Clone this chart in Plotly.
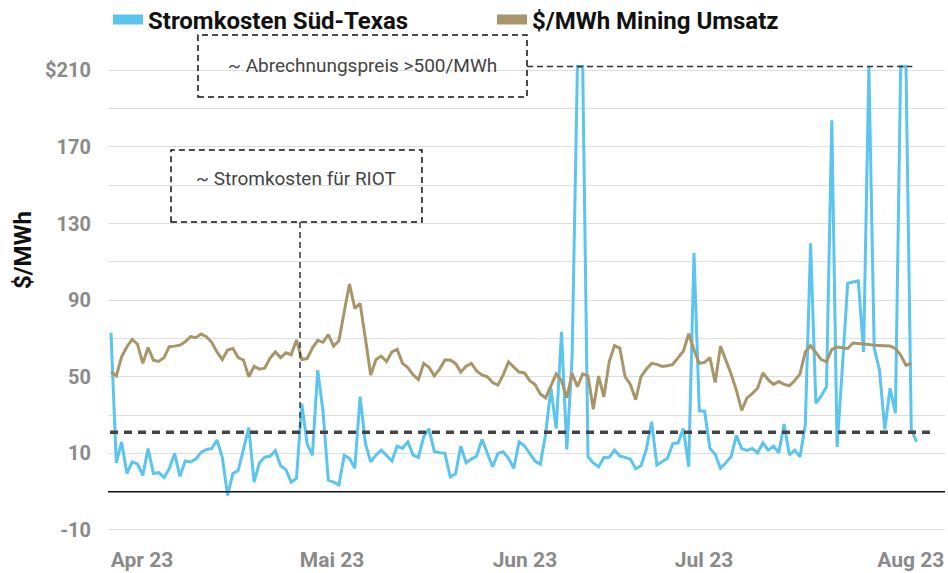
import plotly.graph_objects as go

# ---------------- data ----------------
series_names = ["Stromkosten Süd-Texas", "$/MWh Mining Umsatz"]

stromkosten = [
    73, 5, 16, -0.5, 5.5, 4.5, -1.5, 12.5, -0.5, 0,
    -2.5, 2, 10, -2, 6, 5.5, 7, 10.5, 12, 12.5,
    17, 8, -12, -0.5, 1, 12, 23.5, -5, 5, 8,
    8.5, 11.5, 3.5, 1.5, -5, -3, 36, 15, 9, 53.5,
    32, -4, -5, -6.5, 9, 7.4, 2.2, 39.6, 15.2, 5.6,
    9.1, 11.7, 8.6, 6, 13.8, 12.6, 16, 9.1, 7.9, 18.7,
    22.8, 11, 10.4, 10, -2.2, -0.8, 13.8, 5.1, 7, 8.6,
    17.3, 10, 3, 10, 10.8, 7.4, 2.2, 16, 14, 10,
    6, 4.3, 20, 44, 23, 73.5, 12, 60, 212, 212,
    8.2, 5, 3, 7.9, 8, 11.7, 8.6, 7.9, 6.9, 2,
    3.5, 12, 26.5, 3.9, 5.5, 7.4, 15, 15.5, 23, 3,
    114.6, 32.2, 32, 12.6, 9.5, 2.2, 5.1, 8.2, 19.4, 12.5,
    11.5, 12.6, 10.3, 15.5, 11.7, 13.8, 10.3, 25.3, 9.1, 11.7,
    8.2, 24.8, 119.7, 36.1, 40, 44.8, 184, 13.4, 55, 98.8,
    99.5, 100.1, 63, 212, 64.8, 53.5, 22.5, 44, 30.9, 212,
    212, 22.5, 16,
]

mining_umsatz = [
    52.6, 50.4, 60.4, 65.7, 69.5, 67, 57, 65.3, 58.7, 58,
    60, 65.7, 66, 66.5, 68.3, 71, 70.4, 72.3, 70.9, 68,
    63, 59, 64, 64.8, 60, 58.7, 50, 55.5, 54, 54.5,
    59.6, 63, 60, 62.5, 61.5, 69.2, 59, 59.5, 65, 69,
    68, 72, 66, 68.8, 84, 98.4, 85.7, 88.3, 70, 50.9,
    59, 60.8, 58, 63, 64.3, 57, 54.8, 51, 48.5, 57,
    55, 50.5, 54, 58.7, 58.7, 57, 52.5, 55.5, 57, 53,
    51, 50, 47, 45.7, 51, 57.8, 55, 52.5, 52, 48,
    46, 41, 39, 45, 51.5, 48, 39, 51.8, 44.8, 51.5,
    50.5, 33, 50.4, 39.5, 57.8, 66.3, 65, 50, 46, 38,
    50, 54, 57, 56.5, 55.4, 55.8, 56.5, 60, 63.3, 72.5,
    64, 57, 57.5, 60, 47, 66, 59, 51.5, 43, 32.5,
    39, 41.2, 44, 52, 48.5, 46, 47.5, 46, 45.3, 48,
    51.5, 63, 66.3, 62.6, 59, 57.8, 64.3, 65.5, 65.2, 64.8,
    67.6, 67.4, 67.1, 66.8, 66.4, 66.3, 66.2, 66.1, 64.7, 61.3,
    56, 57,
]

x_tick_text = ["Apr 23", "Mai 23", "Jun 23", "Jul 23", "Aug 23"]
y_tick_vals = [-30, -10, 10, 30, 50, 70, 90, 110, 130, 150, 170, 190, 210]
y_tick_text = ["-10", "", "10", "", "50", "", "90", "", "130", "", "170", "", "$210"]

riot_cost_level = 21      # ~ Stromkosten für RIOT
settlement_cap = 212      # ~ Abrechnungspreis >500/MWh
base_level = -10

annotation_texts = ["~ Abrechnungspreis >500/MWh", "~ Stromkosten für RIOT"]
y_title = "$/MWh"

# ---------------- styling / layout ----------------
BLUE = "#5BC4EF"
GOLD = "#A8966A"
FONT = "Roboto"
x_tick_pos = [5.85, 41.7, 78.1, 111.9, 150.9]

x_blue = list(range(len(stromkosten)))
x_gold = list(range(len(mining_umsatz)))

fig = go.Figure()

fig.add_trace(go.Scatter(x=x_blue, y=stromkosten, mode="lines",
                         line=dict(color=BLUE, width=3), name=series_names[0],
                         legendgroup="a", showlegend=False))
fig.add_trace(go.Scatter(x=x_gold, y=mining_umsatz, mode="lines",
                         line=dict(color=GOLD, width=3), name=series_names[1],
                         legendgroup="b", showlegend=False))
# legend swatches
fig.add_trace(go.Scatter(x=[None], y=[None], mode="lines",
                         line=dict(color=BLUE, width=16), name=series_names[0],
                         legendgroup="a"))
fig.add_trace(go.Scatter(x=[None], y=[None], mode="lines",
                         line=dict(color=GOLD, width=16), name=series_names[1],
                         legendgroup="b"))

shapes = []
# solid black base line
shapes.append(dict(type="line", xref="paper", yref="y", x0=0, x1=1,
                   y0=base_level, y1=base_level, line=dict(color="#111", width=1.5)))
# thick dashed RIOT cost line
shapes.append(dict(type="line", xref="paper", yref="y", x0=0.0024, x1=0.982,
                   y0=riot_cost_level, y1=riot_cost_level,
                   line=dict(color="#444", width=3.5, dash="8px,6px")))
# thin dashed cap line
shapes.append(dict(type="line", xref="paper", yref="y", x0=0.5006, x1=0.961,
                   y0=settlement_cap, y1=settlement_cap,
                   line=dict(color="#333", width=1.5, dash="6px,4px")))
# box 1
shapes.append(dict(type="rect", xref="paper", yref="paper", x0=0.1075, x1=0.5006,
                   y0=0.8973, y1=1.0246, line=dict(color="#111", width=1.5, dash="6px,4px"),
                   fillcolor="rgba(0,0,0,0)"))
# box 2
shapes.append(dict(type="rect", xref="paper", yref="paper", x0=0.0753, x1=0.3751,
                   y0=0.6407, y1=0.7885, line=dict(color="#111", width=1.5, dash="6px,4px"),
                   fillcolor="rgba(0,0,0,0)"))
# vertical connector
shapes.append(dict(type="line", xref="paper", yref="paper", x0=0.2294, x1=0.2294,
                   y0=0.6407, y1=0.209, line=dict(color="#333", width=1.5, dash="6px,4px")))

annotations = [
    dict(text=annotation_texts[0], xref="paper", yref="paper", x=0.3041, y=0.9610,
         xanchor="center", yanchor="middle", showarrow=False,
         font=dict(family=FONT, size=19, color="#444")),
    dict(text=annotation_texts[1], xref="paper", yref="paper", x=0.2246, y=0.7290,
         xanchor="center", yanchor="middle", showarrow=False,
         font=dict(family=FONT, size=19, color="#444")),
    dict(text=y_title, xref="paper", yref="paper", x=-0.1015, y=0.583,
         xanchor="center", yanchor="middle", textangle=-90, showarrow=False,
         font=dict(family=FONT, size=24, color="#111", weight="bold")),
]

fig.update_layout(
    width=948, height=573,
    margin=dict(l=108, r=3, t=47, b=39, autoexpand=False),
    paper_bgcolor="white", plot_bgcolor="white",
    shapes=shapes, annotations=annotations,
    legend=dict(orientation="h", x=0.0, y=1.102, xanchor="left", yanchor="top",
                font=dict(family=FONT, size=24, color="#111", weight="bold"),
                entrywidth=339, entrywidthmode="pixels", bgcolor="rgba(0,0,0,0)"),
    xaxis=dict(range=[-0.566, 157.36], tickvals=x_tick_pos, ticktext=x_tick_text,
               showgrid=False, zeroline=False, showline=False, ticks="",
               automargin=False, ticklabelstandoff=11,
               tickfont=dict(family=FONT, size=21, color="#8a8a8a", weight="bold")),
    yaxis=dict(range=[-32.1, 222.2], tickvals=y_tick_vals, ticktext=y_tick_text,
               showgrid=True, gridcolor="#dedede", gridwidth=1, zeroline=False,
               showline=False, ticks="", ticklabelstandoff=16, automargin=False,
               tickfont=dict(family=FONT, size=20, color="#8a8a8a", weight="bold")),
    showlegend=True,
)

fig.write_html("out.html", config={"displayModeBar": False},
               post_script="document.body.style.margin='0';document.body.style.padding='0';")
